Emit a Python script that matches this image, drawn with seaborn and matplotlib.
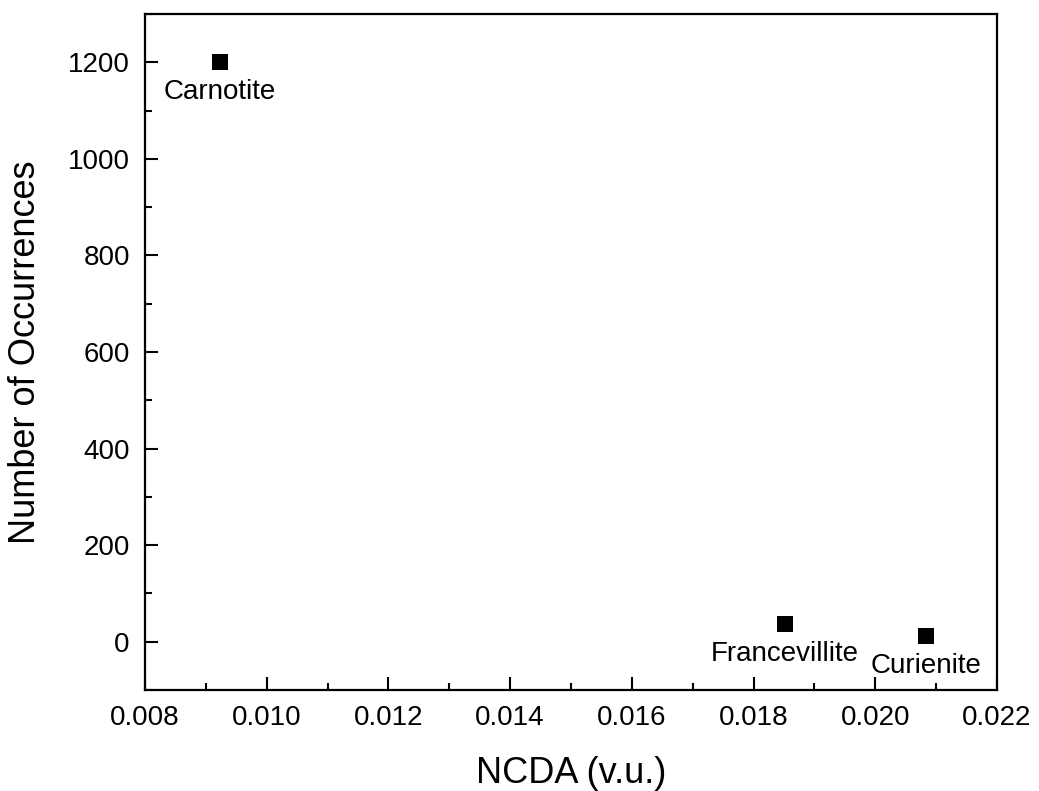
import seaborn as sns
import pandas as pd
from matplotlib import pyplot as plt
from matplotlib.ticker import MultipleLocator, FormatStrFormatter

minerals = ['Carnotite', 'Francevillite', 'Curienite']
ncda = [0.00923, 0.01851, 0.02083]
occurrences = [1200, 37, 12]

df = pd.DataFrame({'mineral': minerals, 'NCDA': ncda, 'occ': occurrences})

sns.set_style('ticks')
plt.rcParams['font.family'] = ['Liberation Sans', 'DejaVu Sans']
plt.rcParams['text.color'] = 'black'
plt.rcParams['axes.labelcolor'] = 'black'
plt.rcParams['xtick.color'] = 'black'
plt.rcParams['ytick.color'] = 'black'
plt.rcParams['axes.edgecolor'] = 'black'

fig = plt.figure(figsize=(10.39, 7.91), dpi=100)
ax = fig.add_axes([0.1396, 0.1277, 0.8200, 0.8546])

sns.scatterplot(data=df, x='NCDA', y='occ', marker='s', s=120, color='black',
                edgecolor='black', linewidth=0, ax=ax, legend=False)

# mineral names under each point
for name, x, y in zip(minerals, ncda, occurrences):
    ax.annotate(name, (x, y), xytext=(0, -26.5), textcoords='offset points',
                ha='center', va='baseline', fontsize=20)

ax.set_xlim(0.008, 0.022)
ax.set_ylim(-100, 1300)
ax.xaxis.set_major_locator(MultipleLocator(0.002))
ax.xaxis.set_minor_locator(MultipleLocator(0.001))
ax.xaxis.set_major_formatter(FormatStrFormatter('%.3f'))
ax.yaxis.set_major_locator(MultipleLocator(200))
ax.yaxis.set_minor_locator(MultipleLocator(100))

ax.tick_params(which='both', direction='in', top=False, right=False,
               width=1.5, labelsize=20, pad=11)
ax.tick_params(which='major', length=9.5)
ax.tick_params(which='minor', length=5)
for sp in ax.spines.values():
    sp.set_linewidth(1.6)
    sp.set_visible(True)

ax.set_xlabel('NCDA (v.u.)', fontsize=26, labelpad=18)
ax.set_ylabel('Number of Occurrences', fontsize=26, labelpad=18)

fig.savefig('out.png', dpi=100)
